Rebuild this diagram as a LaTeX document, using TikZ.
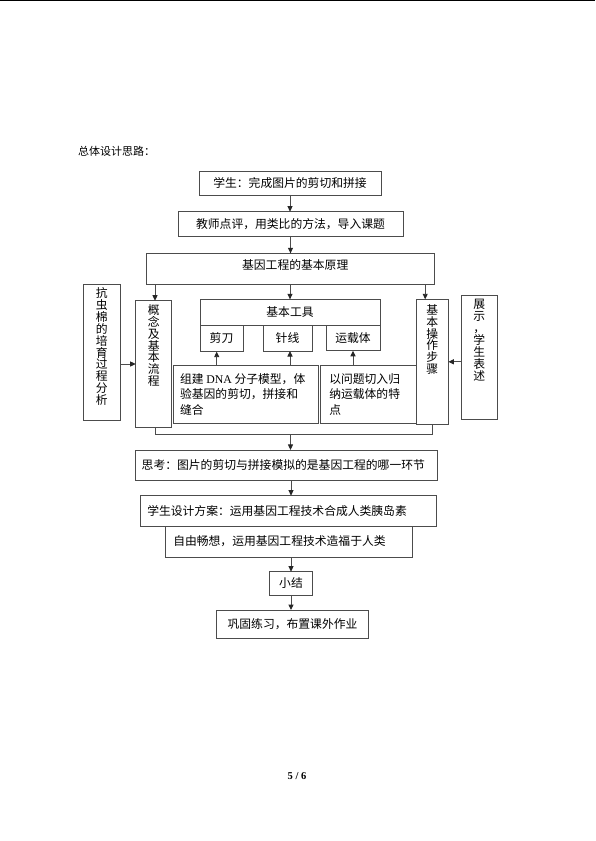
\documentclass[tikz,border=0pt]{standalone}
\usepackage{fontspec}
\setmainfont{Noto Sans CJK SC}
\newfontfamily\lat{Liberation Serif}
\usetikzlibrary{arrows.meta}
\tikzset{
  bx/.style={draw=black!70, line width=0.9pt, inner sep=0pt, outer sep=0pt, rectangle},
  arr/.style={draw=black!70, line width=0.9pt, -{Triangle[length=5.5pt,width=5pt,color=black!85,fill=black!85]}},
  ln/.style={draw=black!70, line width=0.9pt},
}
\newcommand\txt{\fontsize{11.8}{15.5}\selectfont}
\newcommand\lft[3]{\makebox[#1][l]{\hspace*{#2}\txt #3}}
\newcommand\vtxt[4]{\parbox[c][#2][t]{#1}{\centering\fontsize{11.8}{11.9}\selectfont\vspace*{#3}#4}}
\newcommand\mtxt[3]{\parbox{#1}{\txt\leftskip=#2\relax #3}}
\begin{document}
\begin{tikzpicture}[x=1pt,y=-1pt]
\useasboundingbox (0,0) rectangle (595,841);
\draw[line width=1.2pt] (0,0.6) -- (595,0.6);

\node[anchor=west, inner sep=0pt] (title) at (78,151.5) {\fontsize{11}{13}\selectfont 总体设计思路：};

\node[bx, minimum width=182pt, minimum height=23.3pt] (b1) at (290,183.3) {\txt 学生：完成图片的剪切和拼接};
\node[bx, minimum width=225pt, minimum height=24.3pt] (b2) at (290.5,223.8) {\txt 教师点评，用类比的方法，导入课题};
\node[bx, minimum width=287.5pt, minimum height=30.7pt] (big) at (290.2,268.7)
  {\parbox[c][30.7pt][t]{287.5pt}{\centering\txt\vspace*{6pt}\hspace*{10pt}基因工程的基本原理}};

\node[bx, minimum width=36.7pt, minimum height=136pt] (kang) at (101.7,352)
  {\vtxt{36.7pt}{136pt}{3.5pt}{抗\\虫\\棉\\的\\培\\育\\过\\程\\分\\析}};
\node[bx, minimum width=36pt, minimum height=126.6pt] (gainian) at (153.7,364)
  {\vtxt{36pt}{126.6pt}{3.7pt}{概\\念\\及\\基\\本\\流\\程}};
\node[bx, minimum width=32.3pt, minimum height=125pt] (caozuo) at (432.2,361.8)
  {\vtxt{32.3pt}{125pt}{5pt}{基\\本\\操\\作\\步\\骤}};
\node[bx, minimum width=36.3pt, minimum height=124.3pt] (zhanshi) at (479.2,357.2)
  {\vtxt{36.3pt}{124.3pt}{4.4pt}{展\\示\\，\\学\\生\\表\\述}};

\node[bx, minimum width=180pt, minimum height=25.7pt] (tools) at (290,312.2) {\txt 基本工具};
\node[bx, minimum width=43pt, minimum height=26.7pt] (jiandao) at (221.5,338.3) {\txt 剪刀};
\node[bx, minimum width=49pt, minimum height=26pt] (zhenxian) at (287.5,338) {\txt 针线};
\node[bx, minimum width=54pt, minimum height=25.7pt] (yunzai) at (353,337.9) {\txt 运载体};

\node[bx, minimum width=144.7pt, minimum height=58pt] (dna) at (245.7,394)
  {\mtxt{144.7pt}{6.7pt}{组建 {\lat DNA} 分子模型，体\\验基因的剪切，拼接和\\缝合}};
\node[bx, minimum width=95.3pt, minimum height=58.3pt] (wenti) at (368.3,394.2)
  {\mtxt{95.3pt}{8.6pt}{以问题切入归\\纳运载体的特\\点}};

\node[bx, minimum width=302pt, minimum height=30.7pt] (sikao) at (286,465.3)
  {\lft{302pt}{6.7pt}{思考：图片的剪切与拼接模拟的是基因工程的哪一环节}};
\node[bx, minimum width=295.3pt, minimum height=30.3pt] (sheji) at (288.3,510.8)
  {\lft{295.3pt}{6.6pt}{学生设计方案：运用基因工程技术合成人类胰岛素}};
\node[bx, minimum width=246.3pt, minimum height=31pt] (ziyou) at (288.8,541.5)
  {\lft{246.3pt}{7.6pt}{自由畅想，运用基因工程技术造福于人类}};
\node[bx, minimum width=43.4pt, minimum height=23.3pt] (xiaojie) at (291,583.3) {\txt 小结};
\node[bx, minimum width=151.6pt, minimum height=28.3pt] (gonggu) at (292.5,624.2) {\txt 巩固练习，布置课外作业};

\node[inner sep=0pt] (pg) at (297,776) {\lat\bfseries\fontsize{10.5}{12}\selectfont 5 / 6};

% connectors
\draw[arr] (b1.south) -- (b1.south |- b2.north);
\draw[arr] (b2.south) -- (b2.south |- big.north);
\draw[arr] ([xshift=1.3pt]gainian.north |- big.south) -- ([xshift=1.3pt]gainian.north);
\draw[arr] (tools.north |- big.south) -- (tools.north);
\draw[arr] ([xshift=-7pt]caozuo.north |- big.south) -- ([xshift=-7pt]caozuo.north);
\draw[arr] (kang.east |- gainian.west) -- (gainian.west);
\draw[arr] (zhanshi.west |- caozuo.east) -- (caozuo.east);
\draw[arr] ([xshift=-4.8pt]jiandao.south |- dna.north) -- ([xshift=-4.8pt]jiandao.south);
\draw[arr] ([xshift=2.5pt]zhenxian.south |- dna.north) -- ([xshift=2.5pt]zhenxian.south);
\draw[arr] (yunzai.south |- wenti.north) -- (yunzai.south);
\draw[ln] ([xshift=1.3pt]gainian.south) -- ++(0,7.2) coordinate (cl) -| (caozuo.south);
\coordinate (cm) at (290.5,434.5);
\draw[arr] (cm) -- (cm |- sikao.north);
\draw[arr] ([xshift=5pt]sikao.south) -- ([xshift=5pt]sikao.south |- sheji.north);
\draw[arr] ([xshift=2.2pt]ziyou.south) -- ([xshift=2.2pt]ziyou.south |- xiaojie.north);
\draw[arr] (xiaojie.south) -- (xiaojie.south |- gonggu.north);
\end{tikzpicture}
\end{document}
